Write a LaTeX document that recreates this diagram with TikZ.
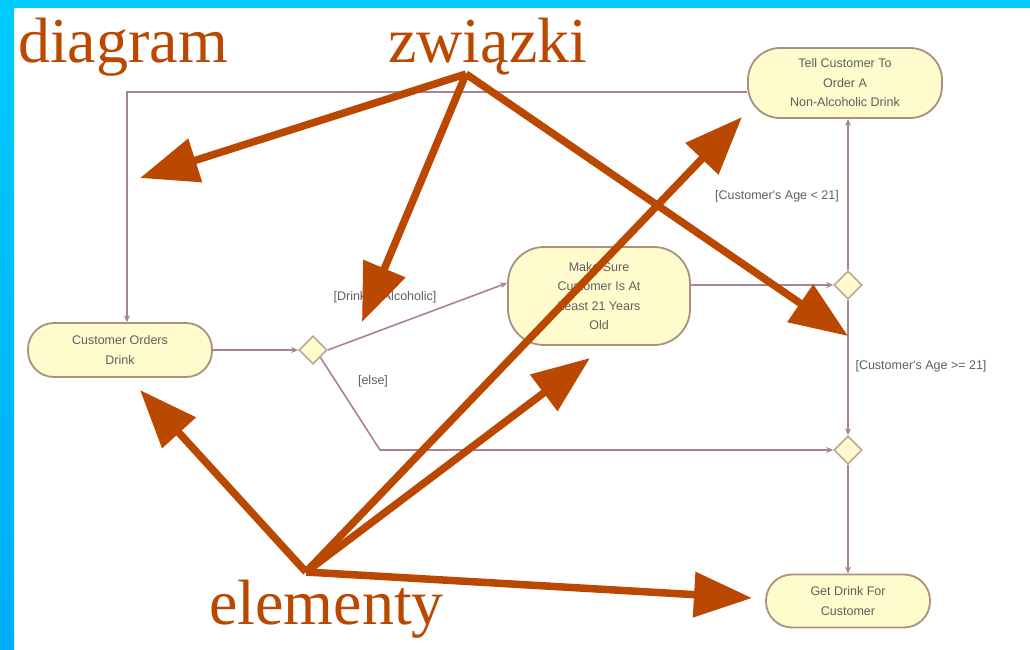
\documentclass[tikz,border=0pt]{standalone}
\usepackage{fontspec}
\setmainfont{Liberation Serif}
\newfontfamily\labelfont{Liberation Sans}
\usetikzlibrary{arrows.meta,shapes.geometric}
\definecolor{rust}{RGB}{186,72,0}
\definecolor{frameblue}{RGB}{0,204,255}
\definecolor{framebluedark}{RGB}{0,172,255}
\definecolor{actfill}{RGB}{255,251,204}
\definecolor{actdraw}{RGB}{170,145,125}
\definecolor{flowcol}{RGB}{170,130,150}
\definecolor{labelcol}{RGB}{95,95,95}
\begin{document}
\begin{tikzpicture}[x=1pt,y=-1pt,
  activity/.style={draw=actdraw, line width=1.8pt, fill=actfill, align=center,
    inner sep=0pt, font=\labelfont\fontsize{12.5}{19.5}\selectfont, text=labelcol},
  decision/.style={diamond, draw=actdraw!80, line width=1.6pt, fill=actfill,
    minimum size=28pt, inner sep=0pt},
  flow/.style={draw=flowcol, line width=1.6pt, -{Stealth[length=7pt,width=6pt]}},
  guard/.style={font=\labelfont\fontsize{12.5}{15}\selectfont, text=labelcol, inner sep=1pt},
  callout/.style={draw=rust, line width=7.5pt, -{Triangle[length=58pt,width=44pt]}},
  title/.style={font=\fontsize{64}{64}\selectfont, text=rust, inner sep=0pt, anchor=base west}]
\useasboundingbox (0,0) rectangle (1030,649);
% slide frame
\fill[white] (0,0) rectangle (1030,649);
\shade[top color=frameblue, bottom color=framebluedark] (0,0) rectangle (14,649);
\fill[frameblue] (0,0) rectangle (1030,8);

% activities
\node[activity, minimum width=184pt, minimum height=54pt, rounded corners=26pt]
  (orders) at (120,350) {Customer Orders\\Drink};
\node[activity, minimum width=182pt, minimum height=98pt, rounded corners=36pt]
  (make) at (599,296) {Make Sure\\Customer Is At\\Least 21 Years\\Old};
\node[activity, minimum width=194pt, minimum height=70pt, rounded corners=32pt]
  (tell) at (845,83) {Tell Customer To\\Order A\\Non-Alcoholic Drink};
\node[activity, minimum width=164pt, minimum height=53pt, rounded corners=26pt]
  (get) at (848,601) {Get Drink For\\Customer};

% decisions and merge
\node[decision] (d1) at (313,350) {};
\node[decision] (d2) at (848,285) {};
\node[decision] (d3) at (848,450) {};

% control flows
\coordinate (elsebend) at (380,450);
\coordinate (loopcorner) at (127,92);
\draw[flow] (orders.east) -- (d1.west);
\draw[flow] (d1.east) -- ([yshift=13pt]make.west);
\node[guard] (alc) at (385,297) {[Drink Is Alcoholic]};
\draw[flow] (d1.south east) -- (elsebend) -- (d3.west);
\node[guard] (elselbl) at (373,381) {[else]};
\draw[flow] (make.east |- d2.west) -- (d2.west);
\draw[flow] (d2.north) -- (d2.north |- tell.south);
\node[guard] (lt) at (777,196) {[Customer's Age < 21]};
\draw[flow] (d2.south) -- (d3.north);
\node[guard] (ge) at (921,366) {[Customer's Age >= 21]};
\draw[flow] (d3.south) -- (get.north);
\draw[flow] ([yshift=-9pt]tell.west) -- (loopcorner) -- (loopcorner |- orders.north);

% captions
\node[title] (tdiag) at (18,62) {diagram};
\node[title] (tzw) at (388,62) {związki};
\node[title] (tel) at (209,624) {elementy};

% callout arrows
\coordinate (zw) at (466,74);
\coordinate (el) at (306,572);
\coordinate (tipA) at (140,178);
\coordinate (tipB) at (362,322);
\coordinate (tipC) at (848,336);
\coordinate (tipD) at (140,390);
\coordinate (tipE) at (590,358);
\coordinate (tipF) at (742,117);
\coordinate (tipG) at (752,598);
\draw[callout] (zw) -- (tipA);
\draw[callout] (zw) -- (tipB);
\draw[callout] (zw) -- (tipC);
\draw[callout] (el) -- (tipD);
\draw[callout] (el) -- (tipE);
\draw[callout] (el) -- (tipF);
\draw[callout] (el) -- (tipG);
\end{tikzpicture}
\end{document}
